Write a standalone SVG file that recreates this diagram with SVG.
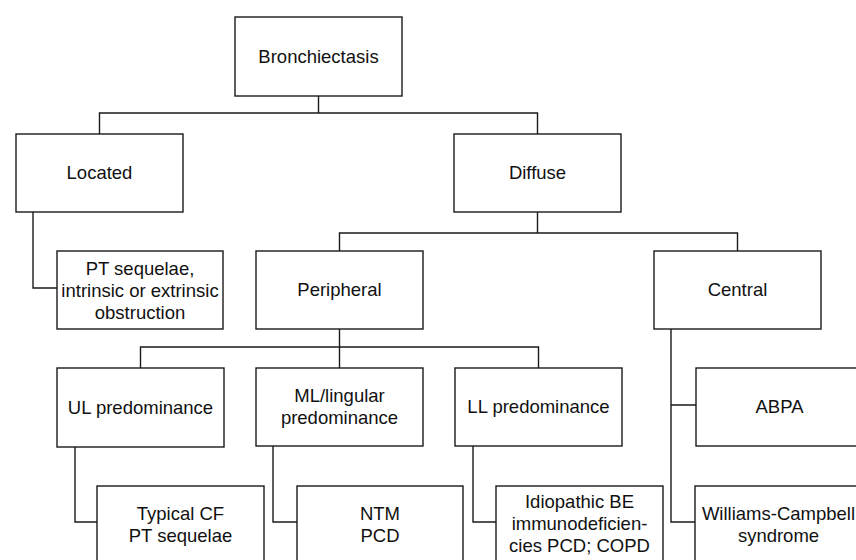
<svg xmlns="http://www.w3.org/2000/svg" width="856" height="560" viewBox="0 0 856 560">
<style>
.box{fill:#fff;stroke:#1a1a1a;stroke-width:1.4}
.t{font-family:"Liberation Sans",Arial,Helvetica,sans-serif;font-size:18.5px;fill:#111;text-anchor:middle}
.c{fill:none;stroke:#1a1a1a;stroke-width:1.4}
</style>
<rect width="856" height="560" fill="#fff"/>
<g id="connectors" class="c">
<path d="M318.5 96V113M99.5 134V113H537.5V134"/>
<path d="M33 212V288H57"/>
<path d="M537.5 212V233M339.5 251V233H737.5V251"/>
<path d="M339.5 329V368M140.5 368V347H538.5V368"/>
<path d="M75 447V522H97"/>
<path d="M273 446V522H297"/>
<path d="M473 446V522H496"/>
<path d="M671 329V522H695M671 405H696"/>
</g>
<g id="bronchiectasis"><rect class="box" x="235" y="17" width="167" height="79"/><text class="t" x="318.5" y="63">Bronchiectasis</text></g>
<g id="located"><rect class="box" x="16" y="134" width="167" height="78"/><text class="t" x="99.5" y="179">Located</text></g>
<g id="diffuse"><rect class="box" x="454" y="134" width="167" height="78"/><text class="t" x="537.5" y="179">Diffuse</text></g>
<g id="pt-sequelae"><rect class="box" x="57" y="251" width="166" height="78"/><text class="t" x="140" y="275">PT sequelae,</text><text class="t" x="140" y="297">intrinsic or extrinsic</text><text class="t" x="140" y="319">obstruction</text></g>
<g id="peripheral"><rect class="box" x="256" y="251" width="167" height="78"/><text class="t" x="339.5" y="296">Peripheral</text></g>
<g id="central"><rect class="box" x="654" y="251" width="167" height="78"/><text class="t" x="737.5" y="296">Central</text></g>
<g id="ul"><rect class="box" x="57" y="368" width="167" height="79"/><text class="t" x="140.5" y="414">UL predominance</text></g>
<g id="ml"><rect class="box" x="256" y="368" width="167" height="78"/><text class="t" x="339.5" y="402">ML/lingular</text><text class="t" x="339.5" y="424">predominance</text></g>
<g id="ll"><rect class="box" x="455" y="368" width="167" height="78"/><text class="t" x="538.5" y="413">LL predominance</text></g>
<g id="abpa"><rect class="box" x="696" y="368" width="167" height="78"/><text class="t" x="779.5" y="413">ABPA</text></g>
<g id="typical-cf"><rect class="box" x="97" y="486" width="167" height="80"/><text class="t" x="180.5" y="520">Typical CF</text><text class="t" x="180.5" y="542">PT sequelae</text></g>
<g id="ntm"><rect class="box" x="297" y="486" width="166" height="80"/><text class="t" x="380" y="520">NTM</text><text class="t" x="380" y="542">PCD</text></g>
<g id="idiopathic"><rect class="box" x="496" y="486" width="167" height="80"/><text class="t" x="579.5" y="508">Idiopathic BE</text><text class="t" x="579.5" y="530">immunodeficien-</text><text class="t" x="579.5" y="552">cies PCD; COPD</text></g>
<g id="williams"><rect class="box" x="695" y="486" width="167" height="80"/><text class="t" x="778.5" y="520">Williams-Campbell</text><text class="t" x="778.5" y="542">syndrome</text></g>
</svg>
